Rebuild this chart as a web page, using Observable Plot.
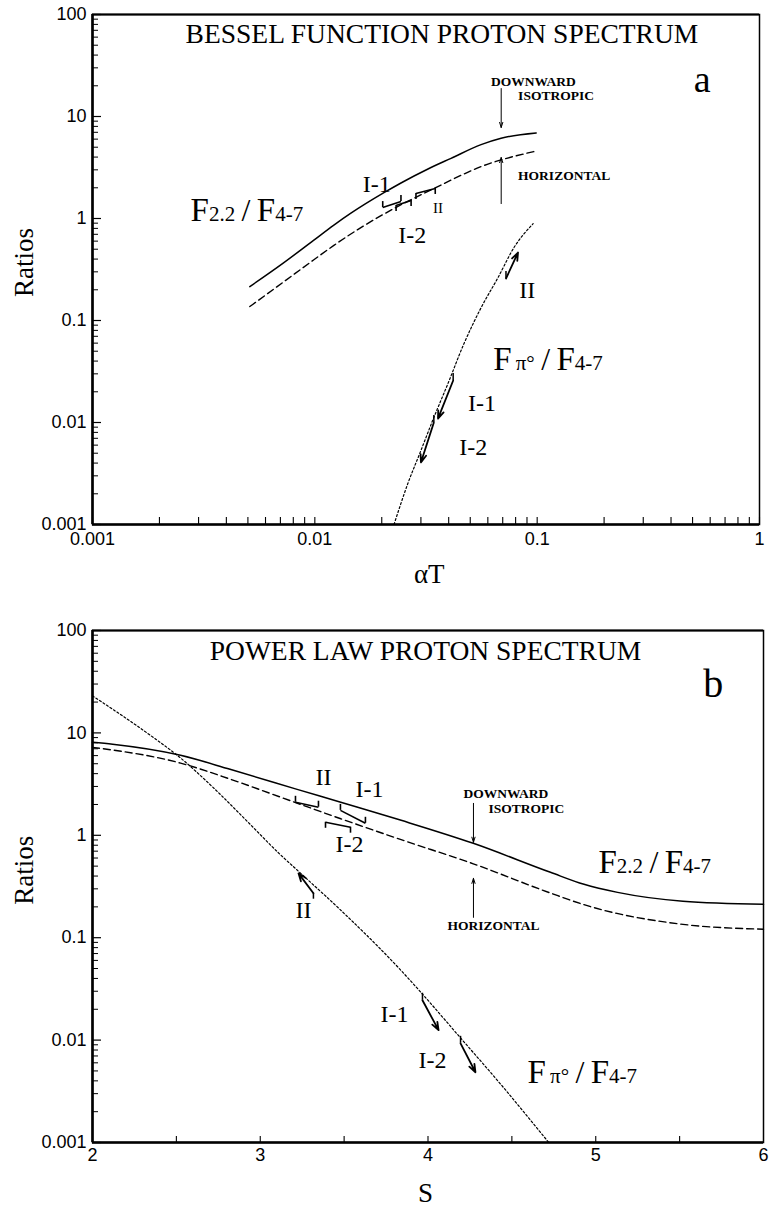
<!DOCTYPE html>
<html><head><meta charset="utf-8">
<script src="https://cdn.jsdelivr.net/npm/d3@7"></script>
<script src="https://cdn.jsdelivr.net/npm/@observablehq/plot@0.6"></script>
<style>body{margin:0;background:#fff} svg{display:block}</style>
</head><body><div id="chart"></div>
<script>
// ---------- Panel a : Bessel function proton spectrum ----------
const aDownX = [0.0051, 0.00718, 0.0099, 0.01218, 0.01453, 0.02046, 0.0244, 0.03228, 0.04098, 0.05592, 0.06884, 0.09897];
const aDownY = [0.215, 0.363, 0.614, 0.862, 1.127, 1.79, 2.23, 3.06, 3.89, 5.3, 6.12, 6.9];
const aHorX = [0.0051, 0.00718, 0.0099, 0.01218, 0.01611, 0.0227, 0.03436, 0.05771, 0.09694];
const aHorY = [0.137, 0.236, 0.394, 0.545, 0.814, 1.253, 1.97, 3.31, 4.54];
const aPiX = [0.0227, 0.0262, 0.0300, 0.0343, 0.0397, 0.0469, 0.0560, 0.0667, 0.0787, 0.0959];
const aPiY = [0.001, 0.00252, 0.00531, 0.0112, 0.0241, 0.0596, 0.134, 0.264, 0.52, 0.89];
// measured-range brackets on the F2.2/F4-7 curves
const aBrX1 = [0.0202, 0.0232, 0.0285];
const aBrX2 = [0.0244, 0.0271, 0.0348];
const aBrY1 = [1.28, 1.34, 1.76];
const aBrY2 = [1.47, 1.50, 1.97];
const aBrUp = [true, false, false];
// arrows on the F pi / F4-7 curve (II, I-1, I-2)
const aArX1 = [0.0724, 0.0419, 0.0343];
const aArY1 = [0.258, 0.0258, 0.0100];
const aArX2 = [0.082, 0.0358, 0.030];
const aArY2 = [0.464, 0.0109, 0.00406];
const aLabelText = ["I-1", "I-2", "II", "II", "I-1", "I-2", "F2.2/F4-7", "Fπ°/F4-7"];
const aLabelX = [0.01644, 0.0237, 0.034, 0.083, 0.0489, 0.0446, 0.00276, 0.0634];
const aLabelY = [1.8, 0.58, 1.145, 0.168, 0.0131, 0.00475, 0.955, 0.0324];
const aLabelSize = [24, 24, 15, 24, 24, 24, 30, 30];
// DOWNWARD ISOTROPIC / HORIZONTAL markers
const aMarkX = 0.0689;
const aDownArrow = [18.8, 7.8];
const aHorArrow = [1.4, 3.96];

// ---------- Panel b : Power law proton spectrum ----------
const bDownS = [2.0, 2.12, 2.525, 2.82, 3.22, 3.48, 3.84, 4.27, 4.73, 4.93, 5.13, 5.52, 6.0];
const bDownY = [8.09, 7.74, 6.04, 4.41, 2.81, 2.10, 1.40, 0.835, 0.435, 0.332, 0.277, 0.227, 0.212];
const bHorS = [2.0, 2.525, 2.82, 3.12, 3.48, 3.84, 4.27, 4.73, 4.93, 5.52, 6.0];
const bHorY = [7.23, 5.07, 3.54, 2.36, 1.45, 0.906, 0.527, 0.273, 0.21, 0.135, 0.121];
const bPiS = [2.0, 2.328, 2.525, 2.72, 2.924, 3.12, 3.228, 3.478, 3.836, 3.955, 4.194, 4.432, 4.72];
const bPiY = [23.0, 9.91, 5.69, 2.92, 1.36, 0.647, 0.445, 0.187, 0.0485, 0.0296, 0.0105, 0.00373, 0.001];
const bBrX1 = [3.21, 3.478, 3.389];
const bBrX2 = [3.347, 3.627, 3.538];
const bBrY1 = [2.10, 1.75, 1.34];
const bBrY2 = [1.88, 1.31, 1.20];
const bBrUp = [true, true, false];
const bArX1 = [3.317, 3.967, 4.194];
const bArY1 = [0.272, 0.0245, 0.0093];
const bArX2 = [3.228, 4.063, 4.283];
const bArY2 = [0.425, 0.0125, 0.00485];
const bLabelText = ["II", "I-1", "I-2", "II", "I-1", "I-2", "F2.2/F4-7", "Fπ°/F4-7"];
const bLabelX = [3.329, 3.568, 3.449, 3.21, 3.717, 3.943, 5.016, 4.593];
const bLabelY = [3.08, 2.35, 0.68, 0.155, 0.0149, 0.0053, 0.425, 0.00378];
const bLabelSize = [24, 24, 24, 24, 24, 24, 30, 30];
const bMarkS = 4.271;
const bDownArrow = [2.05, 0.855];
const bHorArrow = [0.158, 0.38];

// ---------- axes ----------
const yMajor = [0.001, 0.01, 0.1, 1, 10, 100];
const yLabels = ["0.001", "0.01", "0.1", "1", "10", "100"];
const aXMajor = [0.001, 0.01, 0.1, 1];
const aXLabels = ["0.001", "0.01", "0.1", "1"];
const bXMajor = [2, 3, 4, 5, 6];
const bXLabels = ["2", "3", "4", "5", "6"];
const bXTicks = [2.5, 3, 3.5, 4, 4.5, 5, 5.5];
const titles = ["BESSEL FUNCTION PROTON SPECTRUM", "POWER LAW PROTON SPECTRUM"];
const panelLetters = ["a", "b"];

const SERIF = "Liberation Serif, Times New Roman, serif";
const SANS = "Liberation Sans, Arial, sans-serif";

function minorOf(lo, hi) {
  const out = [];
  for (let e = Math.log10(lo); e < Math.log10(hi); e++)
    for (let m = 2; m <= 9; m++) out.push(m * Math.pow(10, e));
  return out;
}
const pts = (xs, ys) => xs.map((x, i) => ({x, y: ys[i]}));
const brackets = (x1, x2, y1, y2, up) => x1.map((d, i) => ({x1: d, x2: x2[i], y1: y1[i], y2: y2[i], up: up[i]}));
const arrows = (x1, y1, x2, y2) => x1.map((d, i) => ({x1: d, y1: y1[i], x2: x2[i], y2: y2[i]}));
const labels = (t, x, y, s) => t.map((d, i) => ({t: d, x: x[i], y: y[i], s: s[i]}));

function bracketMarks(data) {
  const ends = data.flatMap(d => [{x: d.x1, y: d.y1, up: d.up}, {x: d.x2, y: d.y2, up: d.up}]);
  return [
    Plot.link(data, {x1: "x1", y1: "y1", x2: "x2", y2: "y2", stroke: "black", strokeWidth: 1.6}),
    Plot.ruleX(ends.filter(d => d.up), {x: "x", y1: "y", y2: "y", insetBottom: 6, stroke: "black", strokeWidth: 1.6}),
    Plot.ruleX(ends.filter(d => !d.up), {x: "x", y1: "y", y2: "y", insetTop: 6, stroke: "black", strokeWidth: 1.6})
  ];
}

function frameMarks(xMin) {
  return [
    Plot.frame({stroke: "black", strokeWidth: 1.5}),
    Plot.ruleX([xMin], {stroke: "black", strokeWidth: 2.6}),
    Plot.ruleY([0.001], {stroke: "black", strokeWidth: 2.6}),
    Plot.ruleY([100], {stroke: "black", strokeWidth: 2})
  ];
}

function yAxisMarks(xMin) {
  return [
    Plot.ruleY(yMajor, {y: d => d, x1: xMin, x2: xMin, insetRight: -9, stroke: "black", strokeWidth: 1.2}),
    Plot.ruleY(minorOf(0.001, 100), {y: d => d, x1: xMin, x2: xMin, insetRight: -6, stroke: "black", strokeWidth: 1}),
    Plot.text(yMajor, {y: d => d, text: d => yLabels[yMajor.indexOf(d)], frameAnchor: "left", dx: -6,
      textAnchor: "end", lineAnchor: "middle", fontSize: 18, fontFamily: SANS, fill: "black"})
  ];
}

function xAxisText(ticks, labelsArr, pad) {
  return Plot.text(ticks, {x: d => d, text: d => labelsArr[ticks.indexOf(d)], frameAnchor: "bottom", dy: pad,
    textAnchor: "middle", lineAnchor: "top", fontSize: 18, fontFamily: SANS, fill: "black"});
}

function textMarks(data) {
  return Plot.text(data, {x: "x", y: "y", text: "t", fontSize: "s", textAnchor: "start", lineAnchor: "bottom",
    fontFamily: SERIF, fill: "black"});
}

function richify(svg) {
  svg.querySelectorAll("text").forEach(t => {
    const s = t.textContent;
    let parts = null;
    if (s === "F2.2/F4-7") parts = [["F", 33], ["2.2", 21], ["\u2009/\u2009", 32], ["F", 33], ["4-7", 21]];
    else if (s === "Fπ°/F4-7") parts = [["F", 33], ["\u2009π°", 21], ["\u2009/\u2009", 32], ["F", 33], ["4-7", 21]];
    if (!parts) return;
    t.textContent = "";
    for (const [str, size] of parts) {
      const ts = document.createElementNS("http://www.w3.org/2000/svg", "tspan");
      ts.setAttribute("font-size", size);
      ts.textContent = str;
      t.appendChild(ts);
    }
  });
}

const CURVE = "monotone-x";
const dashed = {strokeDasharray: "7,4", strokeWidth: 1.4};
const dotted = {strokeDasharray: "2,2.2", strokeWidth: 1.2};

// ---------- Plot a ----------
const plotA = Plot.plot({
  width: 773, height: 590,
  marginTop: 14, marginLeft: 92, marginRight: 14, marginBottom: 66,
  style: {fontFamily: SANS, fontSize: "18px", background: "white", color: "black"},
  x: {type: "log", domain: [0.001, 1], axis: null},
  y: {type: "log", domain: [0.001, 100], axis: null},
  marks: [
    ...frameMarks(0.001),
    ...yAxisMarks(0.001),
    Plot.ruleX(aXMajor.concat(minorOf(0.001, 1)), {x: d => d, y1: 0.001, y2: 0.001, insetBottom: 7, stroke: "black", strokeWidth: 1.1}),
    xAxisText(aXMajor, aXLabels, 8),
    Plot.line(pts(aDownX, aDownY), {x: "x", y: "y", curve: CURVE, stroke: "black", strokeWidth: 1.5}),
    Plot.line(pts(aHorX, aHorY), {x: "x", y: "y", curve: CURVE, stroke: "black", ...dashed}),
    Plot.line(pts(aPiX, aPiY), {x: "x", y: "y", curve: CURVE, stroke: "black", ...dotted}),
    ...bracketMarks(brackets(aBrX1, aBrX2, aBrY1, aBrY2, aBrUp)),
    Plot.arrow(arrows(aArX1, aArY1, aArX2, aArY2), {x1: "x1", y1: "y1", x2: "x2", y2: "y2", stroke: "black", strokeWidth: 1.8, headLength: 7, headAngle: 40}),
    Plot.ruleX(arrows(aArX1, aArY1, aArX2, aArY2), {x: "x1", y1: "y1", y2: "y1", insetBottom: 7, stroke: "black", strokeWidth: 1.5}),
    Plot.arrow([{y1: aDownArrow[0], y2: aDownArrow[1]}, {y1: aHorArrow[0], y2: aHorArrow[1]}],
      {x1: aMarkX, x2: aMarkX, y1: "y1", y2: "y2", stroke: "black", strokeWidth: 1, headLength: 8, headAngle: 35}),
    Plot.text(["DOWNWARD", "ISOTROPIC", "HORIZONTAL"], {x: [0.062, 0.0821, 0.0821], y: [20.1, 14.4, 2.36],
      text: d => d, textAnchor: "start", lineAnchor: "bottom", fontSize: 13.5, fontFamily: SERIF, fontWeight: 600}),
    textMarks(labels(aLabelText, aLabelX, aLabelY, aLabelSize)),
    Plot.text([titles[0]], {x: 0.0373, y: 53, textAnchor: "middle", lineAnchor: "bottom", fontSize: 27.5, fontFamily: SERIF}),
    Plot.text([panelLetters[0]], {x: 0.553, y: 17.2, textAnchor: "middle", lineAnchor: "bottom", fontSize: 38, fontFamily: SERIF}),
    Plot.text(["Ratios"], {frameAnchor: "left", y: 0.37, dx: -68, rotate: -90, textAnchor: "middle", lineAnchor: "middle", fontSize: 27, fontFamily: SERIF}),
    Plot.text(["αT"], {frameAnchor: "bottom", x: 0.0327, dy: 58, textAnchor: "middle", lineAnchor: "bottom", fontSize: 27, fontFamily: SERIF})
  ]
});

// ---------- Plot b ----------
const plotB = Plot.plot({
  width: 773, height: 616,
  marginTop: 40, marginLeft: 92, marginRight: 10, marginBottom: 64,
  style: {fontFamily: SANS, fontSize: "18px", background: "white", color: "black"},
  x: {type: "linear", domain: [2, 6], axis: null},
  y: {type: "log", domain: [0.001, 100], axis: null},
  marks: [
    ...frameMarks(2),
    ...yAxisMarks(2),
    Plot.ruleX(bXTicks, {x: d => d, y1: 0.001, y2: 0.001, insetBottom: 6, stroke: "black", strokeWidth: 1.1}),
    xAxisText(bXMajor, bXLabels, 6),
    Plot.line(pts(bDownS, bDownY), {x: "x", y: "y", curve: CURVE, stroke: "black", strokeWidth: 1.5}),
    Plot.line(pts(bHorS, bHorY), {x: "x", y: "y", curve: CURVE, stroke: "black", ...dashed}),
    Plot.line(pts(bPiS, bPiY), {x: "x", y: "y", curve: CURVE, stroke: "black", ...dotted}),
    ...bracketMarks(brackets(bBrX1, bBrX2, bBrY1, bBrY2, bBrUp)),
    Plot.arrow(arrows(bArX1, bArY1, bArX2, bArY2), {x1: "x1", y1: "y1", x2: "x2", y2: "y2", stroke: "black", strokeWidth: 1.8, headLength: 7, headAngle: 40}),
    Plot.ruleX(arrows(bArX1, bArY1, bArX2, bArY2).slice(1), {x: "x1", y1: "y1", y2: "y1", insetBottom: 7, stroke: "black", strokeWidth: 1.5}),
    Plot.ruleX(arrows(bArX1, bArY1, bArX2, bArY2).slice(0, 1), {x: "x1", y1: "y1", y2: "y1", insetTop: 6, stroke: "black", strokeWidth: 1.5}),
    Plot.arrow([{y1: bDownArrow[0], y2: bDownArrow[1]}, {y1: bHorArrow[0], y2: bHorArrow[1]}],
      {x1: bMarkS, x2: bMarkS, y1: "y1", y2: "y2", stroke: "black", strokeWidth: 1, headLength: 8, headAngle: 35}),
    Plot.text(["DOWNWARD", "ISOTROPIC", "HORIZONTAL"], {x: [4.212, 4.36, 4.116], y: [2.30, 1.64, 0.118],
      text: d => d, textAnchor: "start", lineAnchor: "bottom", fontSize: 13.5, fontFamily: SERIF, fontWeight: 600}),
    textMarks(labels(bLabelText, bLabelX, bLabelY, bLabelSize)),
    Plot.text([titles[1]], {x: 3.985, y: 51, textAnchor: "middle", lineAnchor: "bottom", fontSize: 27.5, fontFamily: SERIF}),
    Plot.text([panelLetters[1]], {x: 5.70, y: 22.3, textAnchor: "middle", lineAnchor: "bottom", fontSize: 40, fontFamily: SERIF}),
    Plot.text(["Ratios"], {frameAnchor: "left", y: 0.455, dx: -68, rotate: -90, textAnchor: "middle", lineAnchor: "middle", fontSize: 27, fontFamily: SERIF}),
    Plot.text(["S"], {frameAnchor: "bottom", x: 3.985, dy: 59, textAnchor: "middle", lineAnchor: "bottom", fontSize: 27, fontFamily: SERIF})
  ]
});

richify(plotA);
richify(plotB);
const root = document.getElementById("chart");
root.appendChild(plotA);
root.appendChild(plotB);
</script>
</body></html>
